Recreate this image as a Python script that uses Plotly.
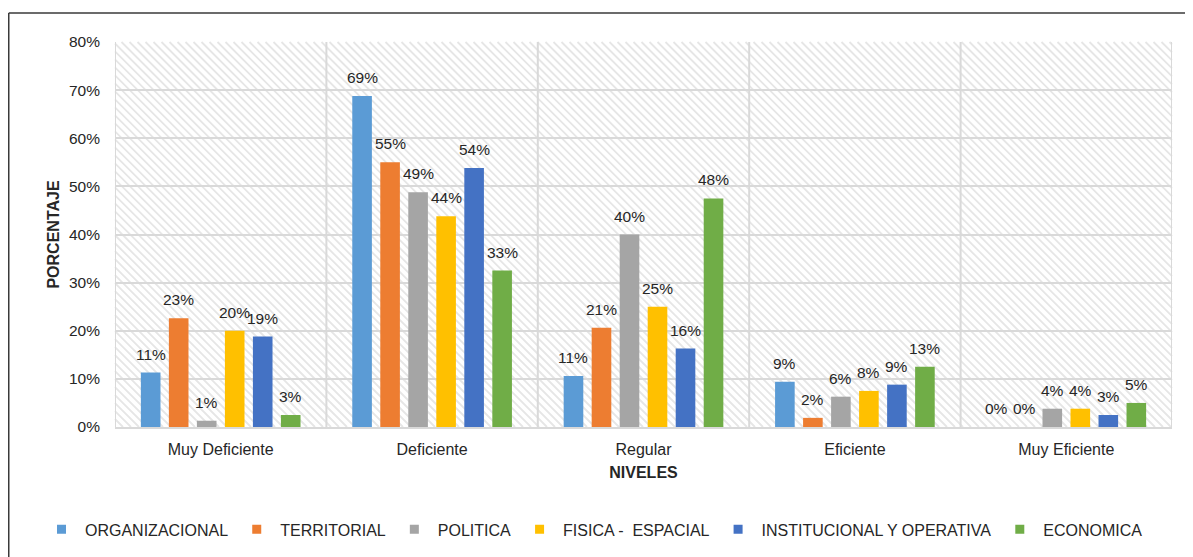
import numpy as np
import plotly.graph_objects as go

categories = ["Muy Deficiente", "Deficiente", "Regular", "Eficiente", "Muy Eficiente"]
organizacional = [11.3, 68.8, 10.6, 9.4, 0.0]
territorial = [22.6, 55.0, 20.6, 1.9, 0.0]
politica = [1.3, 48.8, 40.0, 6.3, 3.8]
fisica_espacial = [20.0, 43.8, 25.0, 7.5, 3.8]
institucional = [18.8, 53.8, 16.3, 8.8, 2.5]
economica = [2.5, 32.5, 47.5, 12.5, 5.0]
y_ticks = [0, 10, 20, 30, 40, 50, 60, 70, 80]
y_tick_labels = [f"{v}%" for v in y_ticks]

series = [
    ("ORGANIZACIONAL", organizacional, "#5B9BD5"),
    ("TERRITORIAL", territorial, "#ED7D31"),
    ("POLITICA", politica, "#A5A5A5"),
    ("FISICA -\u00a0 ESPACIAL", fisica_espacial, "#FFC000"),
    ("INSTITUCIONAL Y OPERATIVA", institucional, "#4472C4"),
    ("ECONOMICA", economica, "#70AD47"),
]

FONT = "Liberation Sans, Arial, sans-serif"
TXT = "#262626"
OFF = 8  # page body margin
W_PX, H_PX = 1193 - OFF, 557 - OFF
PLOT_L, PLOT_R, PLOT_T, PLOT_B = 115 - OFF, 1172 - OFF, 42 - OFF, 427.5 - OFF
ML, MR, MT, MB = PLOT_L, W_PX - PLOT_R, PLOT_T, H_PX - PLOT_B
PW = PLOT_R - PLOT_L
PH = PLOT_B - PLOT_T
BARGAP, BARGROUPGAP = 0.205, 0.30

fig = go.Figure()
annotations = []
n_series = len(series)
slot = (1 - BARGAP) / n_series
for si, (name, vals, color) in enumerate(series):
    fig.add_trace(go.Bar(
        x=categories, y=vals, name=name, legendgroup=name, showlegend=False,
        marker=dict(color=color, line=dict(width=0)),
    ))
    # data labels above each bar, centred on the bar's slot in the group
    for ci, v in enumerate(vals):
        annotations.append(dict(
            x=ci + (si - (n_series - 1) / 2) * slot, y=v, xref="x", yref="y",
            text=f"{int(np.floor(v + 0.5))}%", showarrow=False,
            xanchor="center", yanchor="bottom", yshift=8,
            font=dict(family=FONT, size=15.5, color=TXT),
        ))
# legend entries with small square swatches
for name, vals, color in series:
    fig.add_trace(go.Scatter(
        x=[None], y=[None], mode="markers", name=name, legendgroup=name,
        marker=dict(symbol="square", size=9, color=color),
        hoverinfo="skip",
    ))

# diagonal hatching of the plot background
segs = []
step = 8.0
c = -PH
while c <= PW:
    if c >= 0:
        x0, y0 = c, 0.0
    else:
        x0, y0 = 0.0, -c
    if c + PH <= PW:
        x1, y1 = c + PH, PH
    else:
        x1, y1 = PW, PW - c
    segs.append(f"M{x0/PW:.5f},{1-y0/PH:.5f}L{x1/PW:.5f},{1-y1/PH:.5f}")
    c += step
shapes = [dict(type="path", xref="paper", yref="paper", path="".join(segs),
               line=dict(color="#e6e6e6", width=1.8), layer="below")]
# vertical category separators
for b in np.arange(-0.5, len(categories), 1.0):
    shapes.append(dict(type="line", xref="x", yref="paper", x0=b, x1=b, y0=0, y1=1,
                       line=dict(color="#d9d9d9", width=2), layer="below"))
# outer chart frame (left and top edges visible)
fx = (0.75 - PLOT_L) / PW
fy = 1 + (PLOT_T - (13 - OFF)) / PH
shapes.append(dict(type="line", xref="paper", yref="paper", x0=fx, x1=fx, y0=-2, y1=fy,
                   line=dict(color="#3a3a3a", width=1.5), layer="above"))
shapes.append(dict(type="line", xref="paper", yref="paper", x0=fx, x1=2, y0=fy, y1=fy,
                   line=dict(color="#3a3a3a", width=1.5), layer="above"))

fig.update_layout(
    width=W_PX, height=H_PX,
    margin=dict(l=ML, r=MR, t=MT, b=MB, autoexpand=False),
    paper_bgcolor="white", plot_bgcolor="white",
    barmode="group", bargap=BARGAP, bargroupgap=BARGROUPGAP,
    font=dict(family=FONT, size=15.5, color=TXT),
    shapes=shapes,
    annotations=annotations,
    showlegend=True,
    legend=dict(orientation="h", x=(30 - PLOT_L) / PW, xanchor="left",
                y=-(530 - 427.5) / PH, yanchor="middle",
                itemwidth=37,
                font=dict(family=FONT, size=16, color=TXT),
                bgcolor="rgba(0,0,0,0)"),
    xaxis=dict(
        type="category", range=[-0.5, len(categories) - 0.5],
        showgrid=False, showline=True, linecolor="#d9d9d9", linewidth=2,
        ticks="", ticklabelstandoff=7,
        tickfont=dict(family=FONT, size=16, color=TXT),
        title=dict(text="<b>NIVELES</b>", standoff=10,
                   font=dict(family=FONT, size=16, color=TXT)),
    ),
    yaxis=dict(
        range=[0, 80], tickmode="array", tickvals=y_ticks, ticktext=y_tick_labels,
        showgrid=True, gridcolor="#d9d9d9", gridwidth=2,
        zeroline=False, showline=False, ticks="", ticklabelstandoff=14,
        tickfont=dict(family=FONT, size=15.5, color=TXT),
        title=dict(text="<b>PORCENTAJE</b>", standoff=5,
                   font=dict(family=FONT, size=16, color=TXT)),
    ),
)

fig.write_html("out.html")
